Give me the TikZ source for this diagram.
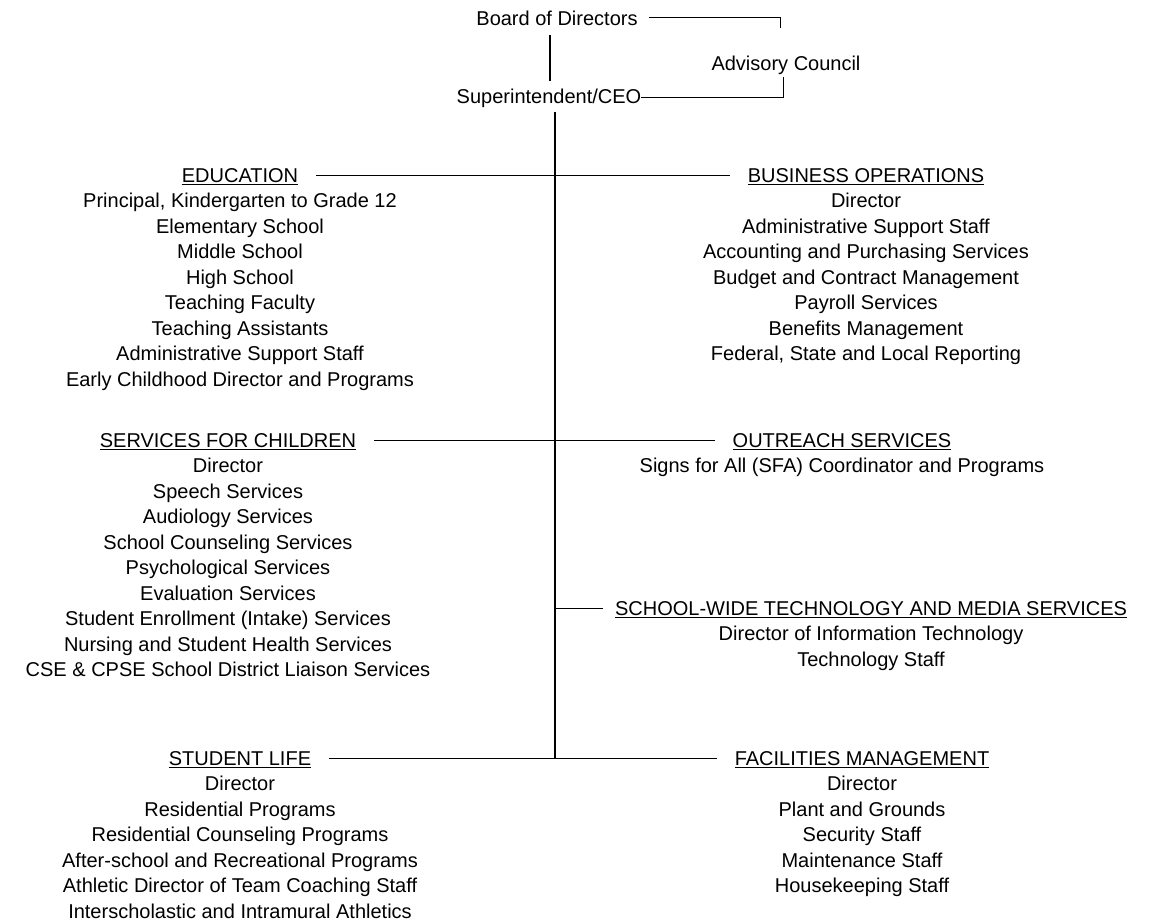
\documentclass[tikz,border=0pt]{standalone}
\usepackage{fontspec}
\setmainfont{Liberation Sans}
\begin{document}
\begin{tikzpicture}[x=1pt,y=-1pt,
  txt/.style={font=\fontsize{20}{25.5}\selectfont, inner sep=0pt, anchor=base, align=center},
  ln/.style={line width=1pt, black},
  trunk/.style={line width=1.3pt, black},
  ulin/.style={line width=1pt, black}]
\useasboundingbox (0,0) rectangle (1162,921);
% top
\node[txt] (board) at (557,25) {Board of Directors};
\node[txt] (adv) at (786,70) {Advisory Council};
\node[txt] (super) at (549,103) {Superintendent/CEO};
\coordinate (trunktop) at (555,112);
% headers
\node[txt] (edu) at (240,182) {EDUCATION};
\node[txt] (bus) at (866,182) {BUSINESS OPERATIONS};
\node[txt] (svc) at (228,447) {SERVICES FOR CHILDREN};
\node[txt] (out) at (842,447) {OUTREACH SERVICES};
\node[txt] (tech) at (871,615) {SCHOOL-WIDE TECHNOLOGY AND MEDIA SERVICES};
\node[txt] (sl) at (240,765) {STUDENT LIFE};
\node[txt] (fac) at (862,765) {FACILITIES MANAGEMENT};
% bodies (anchor = baseline of last line)
\node[txt] (edub) at (240,386) {Principal, Kindergarten to Grade 12\\Elementary School\\Middle School\\High School\\Teaching Faculty\\Teaching Assistants\\Administrative Support Staff\\Early Childhood Director and Programs};
\node[txt] (busb) at (866,360.5) {Director\\Administrative Support Staff\\Accounting and Purchasing Services\\Budget and Contract Management\\Payroll Services\\Benefits Management\\Federal, State and Local Reporting};
\node[txt] (svcb) at (228,676.5) {Director\\Speech Services\\Audiology Services\\School Counseling Services\\Psychological Services\\Evaluation Services\\Student Enrollment (Intake) Services\\Nursing and Student Health Services\\CSE \& CPSE School District Liaison Services};
\node[txt] (outb) at (842,472.5) {Signs for All (SFA) Coordinator and Programs};
\node[txt] (techb) at (871,666) {Director of Information Technology\\Technology Staff};
\node[txt] (slb) at (240,918) {Director\\Residential Programs\\Residential Counseling Programs\\After-school and Recreational Programs\\Athletic Director of Team Coaching Staff\\Interscholastic and Intramural Athletics};
\node[txt] (facb) at (862,892.5) {Director\\Plant and Grounds\\Security Staff\\Maintenance Staff\\Housekeeping Staff};
% underlines
\foreach \n in {edu,bus,svc,out,tech,sl,fac}
  \draw[ulin] ([yshift=-2.5pt]\n.base west) -- ([yshift=-2.5pt]\n.base east);
% top connectors
\draw[ln] ([xshift=11pt]board.east) -| ([xshift=-6pt,yshift=27pt]adv.north);
\draw[ln] (super.east) -| ([xshift=-3pt,yshift=-3pt]adv.south);
\draw[trunk] ([xshift=-7pt,yshift=-10pt]board.south) -- ([xshift=1pt,yshift=7pt]super.north);
\draw[trunk] (trunktop) -- (sl.east -| trunktop);
% branch connectors
\draw[ln] ([xshift=18pt]edu.east) -- (edu.east -| trunktop);
\draw[ln] ([xshift=-18pt]bus.west) -- (bus.west -| trunktop);
\draw[ln] ([xshift=18pt]svc.east) -- (svc.east -| trunktop);
\draw[ln] ([xshift=-18pt]out.west) -- (out.west -| trunktop);
\draw[ln] ([xshift=-12pt]tech.west) -- (tech.west -| trunktop);
\draw[ln] ([xshift=18pt]sl.east) -- (sl.east -| trunktop);
\draw[ln] ([xshift=-18pt]fac.west) -- (fac.west -| trunktop);
\end{tikzpicture}
\end{document}
